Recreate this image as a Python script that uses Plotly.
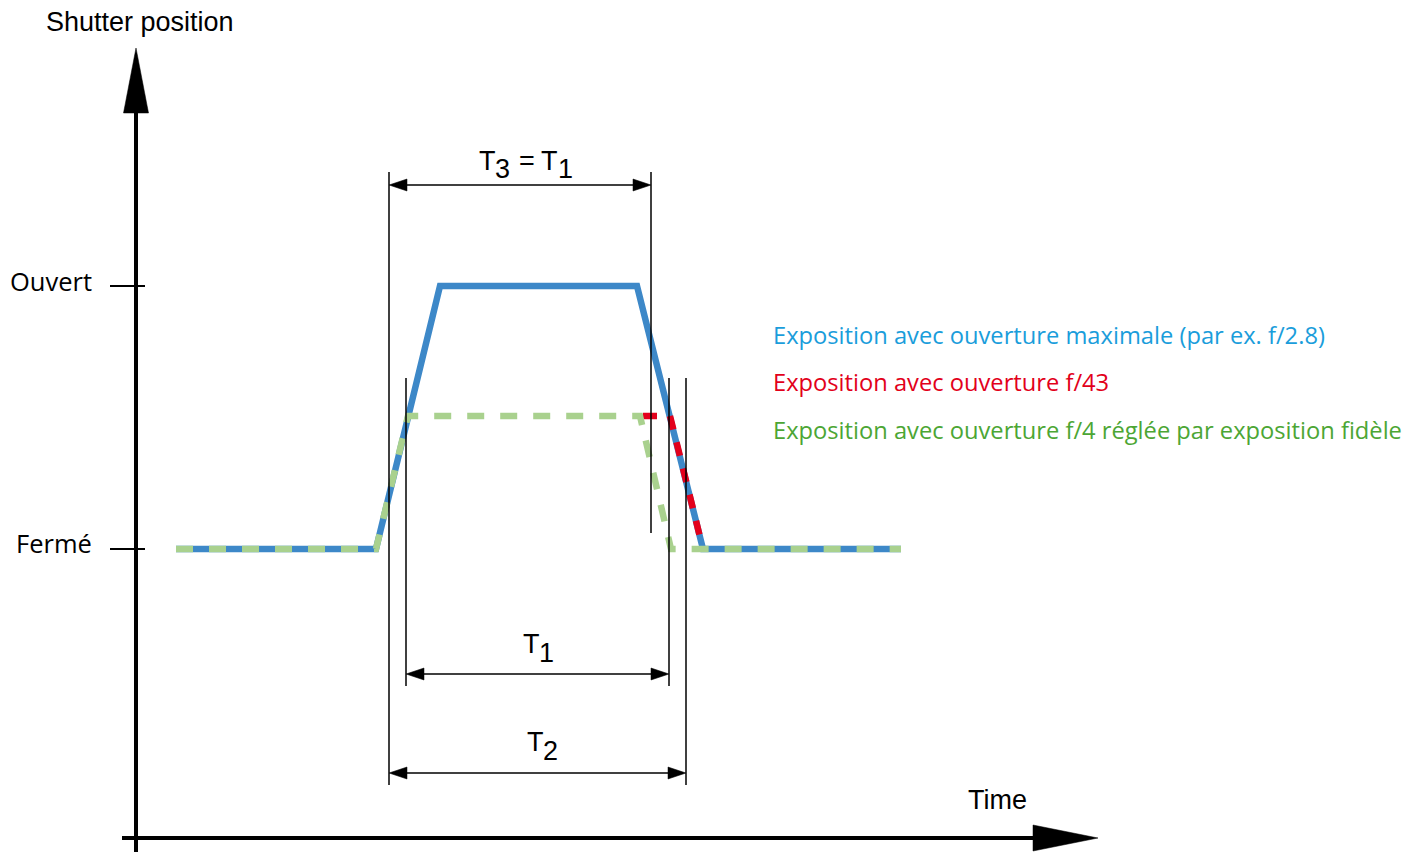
import plotly.graph_objects as go

# Diagram drawn in a pixel-like coordinate space (x: time, y: shutter opening, downward)
W, H = 1422, 852

# axes
y_axis_x = 136
x_axis_y = 838
level_open = 286
level_closed = 549

# exposure curves (time, position)
full_t = [176, 376, 440, 637, 703, 901]
full_p = [549, 549, 286, 286, 549, 549]

f43_t = [643, 670, 703]
f43_p = [416, 416, 549]

f4_t = [176, 376, 408, 640, 671, 901]
f4_p = [549, 549, 416, 416, 549, 549]

# reference verticals: x, top, bottom
verticals = [(389, 172, 785), (406, 378, 686), (651, 172, 533),
             (669, 378, 686), (686, 378, 785)]

# dimension arrows: y, x start, x end
dims = [(185, 389, 651), (674, 406, 669), (773, 389, 686)]

# dimension labels: pieces of (x left, y centre, text); subscripts sit lower
dim_labels = [
    (478, 161, "T"), (494, 169, "3"), (518, 161, "="), (540, 161, "T"), (557, 169, "1"),
    (522, 644, "T"), (538, 653, "1"),
    (526, 742, "T"), (542, 751, "2"),
]

legend_labels = [
    "Exposition avec ouverture maximale (par ex. f/2.8)",
    "Exposition avec ouverture f/43",
    "Exposition avec ouverture f/4 réglée par exposition fidèle",
]
legend_colors = ["#1a9ddb", "#e2001a", "#4ca634"]
legend_y = [335, 382, 430]

fig = go.Figure()


def tri(tip, direction, length, half):
    x0, y0 = tip
    dx, dy = direction
    bx, by = x0 - dx * length, y0 - dy * length
    px, py = -dy, dx
    return ([x0, bx + px * half, bx - px * half, x0],
            [y0, by + py * half, by - py * half, y0])


def add_tri(tip, direction, length, half):
    xs, ys = tri(tip, direction, length, half)
    fig.add_trace(go.Scatter(x=xs, y=ys, mode="lines", fill="toself",
                             fillcolor="black", line=dict(color="black", width=0.5),
                             hoverinfo="skip", showlegend=False))


def add_line(xs, ys, width, color="black", dash=None):
    fig.add_trace(go.Scatter(x=xs, y=ys, mode="lines",
                             line=dict(color=color, width=width, dash=dash),
                             hoverinfo="skip", showlegend=False))


# main axes with arrow heads
add_line([y_axis_x, y_axis_x], [852, 105], 4)
add_tri((y_axis_x, 48), (0, -1), 65, 12.5)
add_line([122, 1040], [x_axis_y, x_axis_y], 4)
add_tri((1098, x_axis_y), (1, 0), 65, 13)

# level ticks
for lv in (level_open, level_closed):
    add_line([110, 145], [lv, lv], 2)

# curves
add_line(full_t, full_p, 6.5, "#3d88c8")
add_line(f43_t, f43_p, 6.5, "#e3001b", "14px,13px")
add_line(f4_t, f4_p, 6.5, "#a9d18e", "17px,16px")

# reference verticals
for vx, vt, vb in verticals:
    add_line([vx, vx], [vt, vb], 1.5)

# dimension arrows
for dy, xa, xb in dims:
    add_line([xa + 10, xb - 10], [dy, dy], 1.5)
    add_tri((xa, dy), (-1, 0), 18, 6)
    add_tri((xb, dy), (1, 0), 18, 6)

for lx, ly, lab in dim_labels:
    fig.add_annotation(x=lx, y=ly, text=lab, showarrow=False,
                       font=dict(family="Liberation Sans", size=27, color="black"),
                       xanchor="left", yanchor="middle", borderpad=0)

# axis texts
txt_font = dict(family="Liberation Sans", size=27, color="black")
fig.add_annotation(x=140, y=22, text="Shutter position", showarrow=False,
                   font=txt_font, xanchor="center", yanchor="middle")
fig.add_annotation(x=997, y=800, text="Time", showarrow=False,
                   font=txt_font, xanchor="center", yanchor="middle")
lvl_font = dict(family="Open Sans", size=25.5, color="black")
fig.add_annotation(x=94, y=281, text="Ouvert", showarrow=False,
                   font=lvl_font, xanchor="right", yanchor="middle")
fig.add_annotation(x=94, y=543, text="Fermé", showarrow=False,
                   font=lvl_font, xanchor="right", yanchor="middle")

# legend texts
for lab, col, ly in zip(legend_labels, legend_colors, legend_y):
    fig.add_annotation(x=771, y=ly, text=lab, showarrow=False,
                       font=dict(family="Open Sans", size=23.7, color=col),
                       xanchor="left", yanchor="middle")

fig.update_layout(
    width=W, height=H,
    margin=dict(l=0, r=0, t=0, b=0),
    paper_bgcolor="white", plot_bgcolor="white",
    xaxis=dict(range=[0, W], visible=False, fixedrange=True),
    yaxis=dict(range=[H, 0], visible=False, fixedrange=True),
    showlegend=False,
)

fig.write_html("out.html", config={"displayModeBar": False},
               post_script="document.body.style.margin='0';")
